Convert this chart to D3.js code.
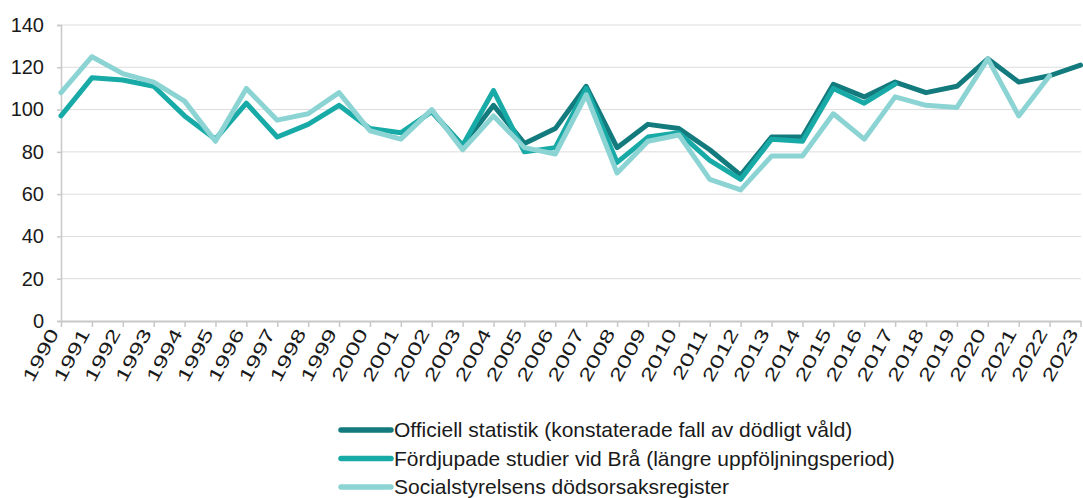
<!DOCTYPE html>
<html>
<head>
<meta charset="utf-8">
<script src="https://cdn.jsdelivr.net/npm/d3@7"></script>
<style>
  body { margin: 0; background: #fff; }
  svg { font-family: "Liberation Sans", Arial, sans-serif; }
</style>
</head>
<body>
<svg id="chart"></svg>
<script>
var years = d3.range(1990, 2024);
var yTicks = [0, 20, 40, 60, 80, 100, 120, 140];

// Officiell statistik, from 2002
var officialYears = d3.range(2002, 2024);
var official = [99, 83, 102, 84, 91, 111, 82, 93, 91, 81, 69, 87, 87, 112, 106, 113, 108, 111, 124, 113, 116, 121];

// Fördjupade studier vid Brå, 1990-2017
var braYears = d3.range(1990, 2018);
var bra = [97, 115, 114, 111, 97, 86, 103, 87, 93, 102, 91, 89, 99, 83, 109, 80, 82, 110, 75, 87, 89, 76, 67, 86, 85, 110, 103, 112];

// Socialstyrelsens dödsorsaksregister, 1990-2022
var sosYears = d3.range(1990, 2023);
var sos = [108, 125, 117, 113, 104, 85, 110, 95, 98, 108, 90, 86, 100, 81, 97, 82, 79, 107, 70, 85, 88, 67, 62, 78, 78, 98, 86, 106, 102, 101, 124, 97, 116];

var seriesNames = [
  "Officiell statistik (konstaterade fall av dödligt våld)",
  "Fördjupade studier vid Brå (längre uppföljningsperiod)",
  "Socialstyrelsens dödsorsaksregister"
];
var seriesColors = ["#137b7d", "#18aaa6", "#8cd4d4"];

var width = 1083, height = 498;
var svg = d3.select("#chart").attr("width", width).attr("height", height);

var x = d3.scalePoint().domain(years).range([61, 1080.5]);
var y = d3.scaleLinear().domain([0, 140]).range([321, 25]);

// gridlines
svg.append("g")
  .selectAll("line")
  .data(yTicks.slice(1))
  .enter().append("line")
  .attr("x1", 61).attr("x2", 1081)
  .attr("y1", d => y(d)).attr("y2", d => y(d))
  .attr("stroke", "#dcdcdc").attr("stroke-width", 1);

// y axis
var yAxis = svg.append("g")
  .attr("transform", "translate(61,0)")
  .call(d3.axisLeft(y).tickValues(yTicks).tickSize(4).tickPadding(13));
yAxis.select(".domain").attr("stroke", "#c8c8c8").attr("stroke-width", 1.5);
yAxis.selectAll(".tick line").attr("stroke", "#c8c8c8").attr("stroke-width", 1.5);
yAxis.selectAll(".tick text")
  .attr("font-size", 20).attr("fill", "#1a1a1a")
  .attr("font-family", "Liberation Sans, Arial, sans-serif");

// x axis
var xAxis = svg.append("g")
  .attr("transform", "translate(0," + y(0) + ")")
  .call(d3.axisBottom(x).tickSize(6).tickSizeOuter(0));
xAxis.select(".domain").attr("stroke", "#c8c8c8").attr("stroke-width", 2);
xAxis.selectAll(".tick line").attr("stroke", "#c8c8c8").attr("stroke-width", 1.5);
// steep, wide year labels as in the original
xAxis.selectAll(".tick text")
  .attr("font-size", 18).attr("fill", "#1a1a1a")
  .attr("font-family", "Liberation Sans, Arial, sans-serif")
  .attr("text-anchor", "end")
  .attr("dy", null)
  .attr("y", 0)
  .attr("transform", "translate(-2,12) rotate(-62) scale(1.42,1)");

// lines
var line = d3.line()
  .x(d => x(d[0]))
  .y(d => y(d[1]))
  .curve(d3.curveLinear);

var seriesData = [
  d3.zip(officialYears, official),
  d3.zip(braYears, bra),
  d3.zip(sosYears, sos)
];

svg.append("g")
  .selectAll("path")
  .data(seriesData)
  .enter().append("path")
  .attr("d", line)
  .attr("fill", "none")
  .attr("stroke", (d, i) => seriesColors[i])
  .attr("stroke-width", 5)
  .attr("stroke-linejoin", "round")
  .attr("stroke-linecap", "round");

// legend
var legend = svg.append("g").attr("transform", "translate(341,430)");
var items = legend.selectAll("g")
  .data(seriesNames)
  .enter().append("g")
  .attr("transform", (d, i) => "translate(0," + (i * 28.5) + ")");
items.append("line")
  .attr("x1", 0).attr("x2", 50)
  .attr("y1", 0).attr("y2", 0)
  .attr("stroke", (d, i) => seriesColors[i])
  .attr("stroke-width", 5.5)
  .attr("stroke-linecap", "round");
items.append("text")
  .attr("x", 53).attr("y", 0)
  .attr("dy", "0.35em")
  .attr("font-size", 21)
  .attr("fill", "#1a1a1a")
  .text(d => d);
</script>
</body>
</html>
